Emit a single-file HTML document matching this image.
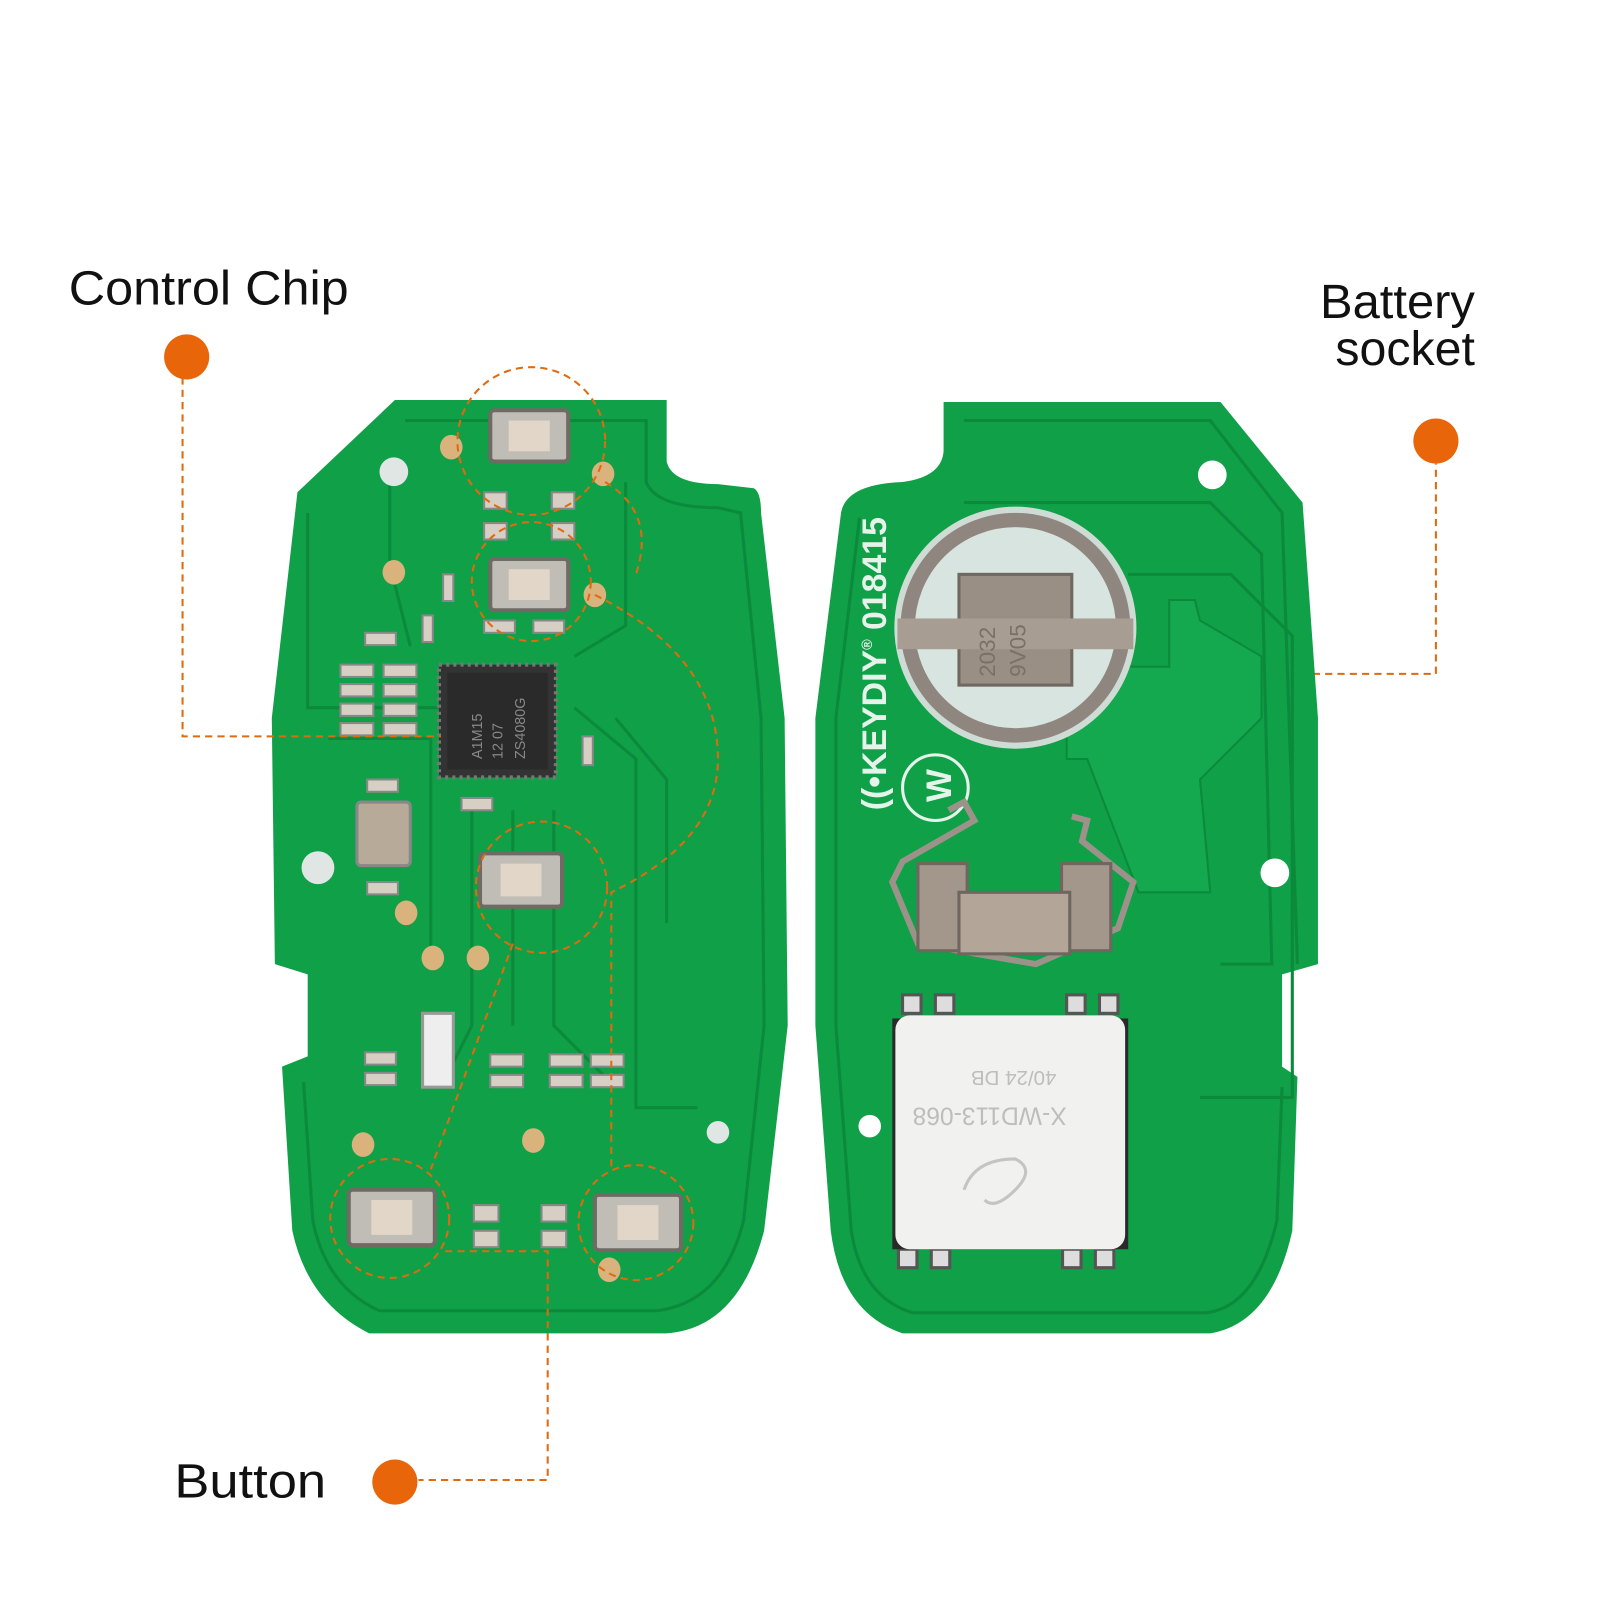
<!DOCTYPE html>
<html><head><style>html,body{margin:0;padding:0;background:#fff}svg{display:block}</style></head><body>
<svg width="1600" height="1600" viewBox="0 0 1560 1560" xmlns="http://www.w3.org/2000/svg" font-family="Liberation Sans, sans-serif">
<rect width="1560" height="1560" fill="#fff"/>
<path d="M385 390 L650 390 L650 450 Q655 472 700 472 L735 476 Q742 480 742 500 L765 700 L768 1000 L745 1200 Q720 1295 650 1300 L360 1300 Q300 1270 285 1200 L275 1040 L300 1030 L300 950 L268 940 L265 700 L290 480 Z" fill="#0fa048"/>
<path d="M395 410 L630 410 L630 470 Q640 495 700 495 L722 500 L742 700 L745 1000 L725 1190 Q705 1270 640 1278 L370 1278 Q318 1255 305 1190 L296 1055" fill="none" stroke="#0c8a3c" stroke-width="3"/>
<path d="M300 500 L300 690 L430 690 M320 720 L420 720 L420 930 M600 700 L650 760 L650 900 M560 690 L620 740 L620 1080 L680 1080 M540 790 L540 1000 L600 1060 M500 790 L500 1000 M460 790 L460 1000 L440 1040 M380 470 L380 550 L400 630 M610 470 L610 610 L560 640" fill="none" stroke="#0c8a3c" stroke-width="3"/>
<rect x="428" y="648" width="114" height="110" fill="#333" stroke="#777" stroke-width="4" stroke-dasharray="3 4"/>
<rect x="436" y="656" width="98" height="94" fill="#2a2a2a"/>
<text transform="translate(470,740) rotate(-90)" font-size="14" fill="#888">A1M15</text>
<text transform="translate(490,740) rotate(-90)" font-size="14" fill="#888">12 07</text>
<text transform="translate(512,740) rotate(-90)" font-size="14" fill="#888">ZS4080G</text>
<g fill="#d8cfc4" stroke="#888" stroke-width="2">
<rect x="332" y="648" width="32" height="12"/><rect x="374" y="648" width="32" height="12"/>
<rect x="332" y="667" width="32" height="12"/><rect x="374" y="667" width="32" height="12"/>
<rect x="332" y="686" width="32" height="12"/><rect x="374" y="686" width="32" height="12"/>
<rect x="332" y="705" width="32" height="12"/><rect x="374" y="705" width="32" height="12"/>
<rect x="356" y="617" width="30" height="12"/><rect x="432" y="560" width="10" height="26"/><rect x="412" y="600" width="10" height="26"/>
<rect x="568" y="718" width="10" height="28"/><rect x="450" y="778" width="30" height="12"/>
<rect x="358" y="760" width="30" height="12"/><rect x="358" y="860" width="30" height="12"/>
<rect x="472" y="480" width="22" height="16"/><rect x="538" y="480" width="22" height="16"/>
<rect x="472" y="510" width="22" height="16"/><rect x="538" y="510" width="22" height="16"/>
<rect x="472" y="605" width="30" height="12"/><rect x="520" y="605" width="30" height="12"/>
<rect x="356" y="1026" width="30" height="12"/><rect x="356" y="1046" width="30" height="12"/>
<rect x="478" y="1028" width="32" height="12"/><rect x="478" y="1048" width="32" height="12"/>
<rect x="536" y="1028" width="32" height="12"/><rect x="536" y="1048" width="32" height="12"/>
<rect x="576" y="1028" width="32" height="12"/><rect x="576" y="1048" width="32" height="12"/>
<rect x="462" y="1175" width="24" height="16"/><rect x="528" y="1175" width="24" height="16"/>
<rect x="462" y="1200" width="24" height="16"/><rect x="528" y="1200" width="24" height="16"/>
</g>
<rect x="412" y="988" width="30" height="72" fill="#eee" stroke="#999" stroke-width="3"/>
<rect x="348" y="782" width="52" height="62" rx="4" fill="#b8aa98" stroke="#888" stroke-width="3"/>
<g fill="#c0bcb6" stroke="#6f6a64" stroke-width="4">
<rect x="478" y="400" width="76" height="50" rx="4"/>
<rect x="478" y="545" width="76" height="50" rx="4"/>
<rect x="468" y="832" width="80" height="52" rx="4"/>
<rect x="340" y="1160" width="84" height="54" rx="4"/>
<rect x="580" y="1165" width="84" height="54" rx="4"/>
</g>
<g fill="#e2d6c8"><rect x="496" y="410" width="40" height="30"/><rect x="496" y="555" width="40" height="30"/><rect x="488" y="842" width="40" height="32"/><rect x="362" y="1170" width="40" height="34"/><rect x="602" y="1175" width="40" height="34"/></g>
<g fill="#d9b27c"><ellipse cx="440" cy="436" rx="11" ry="12"/><ellipse cx="588" cy="462" rx="11" ry="12"/><ellipse cx="384" cy="558" rx="11" ry="12"/><ellipse cx="580" cy="580" rx="11" ry="12"/><ellipse cx="396" cy="890" rx="11" ry="12"/><ellipse cx="422" cy="934" rx="11" ry="12"/><ellipse cx="466" cy="934" rx="11" ry="12"/><ellipse cx="354" cy="1116" rx="11" ry="12"/><ellipse cx="520" cy="1112" rx="11" ry="12"/><ellipse cx="594" cy="1238" rx="11" ry="12"/></g>
<g fill="#dfe6e3"><circle cx="384" cy="460" r="14"/><circle cx="310" cy="846" r="16"/><circle cx="700" cy="1104" r="11"/></g>
<g fill="none" stroke="#e06a10" stroke-width="2" stroke-dasharray="7 5">
<circle cx="518" cy="430" r="72"/><circle cx="518" cy="567" r="58"/><circle cx="528" cy="865" r="64"/><circle cx="380" cy="1188" r="58"/><circle cx="620" cy="1192" r="56"/>
<path d="M590 470 Q640 500 620 560"/>
<path d="M580 580 Q700 640 700 740 Q700 820 596 870 L596 1140"/>
<path d="M500 920 L420 1140"/>
<path d="M434 1220 L534 1220 L534 1443 L408 1443"/>
<path d="M178 368 L178 718 L430 718"/>
<path d="M1100 657 L1400 657 L1400 452"/>
</g>
<path d="M920 392 L1190 392 L1270 490 L1285 700 L1285 940 L1250 950 L1250 1040 L1265 1050 L1260 1200 Q1240 1290 1180 1300 L880 1300 Q820 1280 810 1200 L795 1000 L795 700 L820 500 Q825 472 880 470 Q918 465 920 440 Z" fill="#0fa048"/>
<path d="M940 410 L1180 410 L1250 500 L1265 940 M1250 1060 L1245 1190 Q1225 1275 1175 1280 L890 1280 Q840 1265 830 1200 L815 1000 L815 700 L838 505" fill="none" stroke="#0c8a3c" stroke-width="3"/>
<path d="M1140 585 L1165 585 L1170 605 L1230 640 L1230 700 L1170 760 L1180 870 L1110 870 L1060 740 L1040 740 L1040 650 L1140 650 Z" fill="#14a84f" stroke="#0c8a3c" stroke-width="2"/>
<path d="M940 490 L1180 490 L1230 540 L1240 940 L1190 940 M1100 560 L1200 560 L1260 620 L1260 1070 L1170 1070" fill="none" stroke="#0c8a3c" stroke-width="3"/>
<circle cx="1182" cy="463" r="14" fill="#fff"/><circle cx="1243" cy="851" r="14" fill="#fff"/><circle cx="848" cy="1098" r="11" fill="#fff"/>
<circle cx="990" cy="612" r="118" fill="#cfdcd6"/>
<circle cx="990" cy="612" r="105" fill="#d8e4e0" stroke="#8f8680" stroke-width="14"/>
<rect x="935" y="560" width="110" height="108" fill="#9a8f84" stroke="#6f6860" stroke-width="3"/>
<rect x="875" y="603" width="230" height="30" fill="#a89d92"/>
<text transform="translate(970,660) rotate(-90)" font-size="22" fill="#7a7068">2032</text>
<text transform="translate(1000,660) rotate(-90)" font-size="22" fill="#7a7068">9V05</text>
<text transform="translate(864,790) rotate(-90)" font-size="33" font-weight="bold" fill="#e6f3ea">((•KEYDIY<tspan font-size="14" dy="-14">®</tspan><tspan dy="14"> 018415</tspan></text>
<circle cx="912" cy="768" r="32" fill="none" stroke="#e6f3ea" stroke-width="3"/>
<text transform="translate(927,782) rotate(-90)" font-size="34" font-weight="bold" fill="#e6f3ea">W</text>
<path d="M925 790 L940 782 L950 800 L880 840 L870 860 L895 920 L1010 940 L1090 905 L1105 860 L1055 820 L1060 800 L1045 796" fill="none" stroke="#9c928a" stroke-width="6"/>
<rect x="895" y="842" width="48" height="85" fill="#a3968a" stroke="#6e665f" stroke-width="3"/>
<rect x="1035" y="842" width="48" height="85" fill="#a3968a" stroke="#6e665f" stroke-width="3"/>
<rect x="935" y="870" width="108" height="60" fill="#b3a597" stroke="#6e665f" stroke-width="3"/>
<g fill="#ddd" stroke="#555" stroke-width="3"><rect x="880" y="970" width="18" height="18"/><rect x="912" y="970" width="18" height="18"/><rect x="1040" y="970" width="18" height="18"/><rect x="1072" y="970" width="18" height="18"/><rect x="876" y="1218" width="18" height="18"/><rect x="908" y="1218" width="18" height="18"/><rect x="1036" y="1218" width="18" height="18"/><rect x="1068" y="1218" width="18" height="18"/></g>
<rect x="870" y="993" width="230" height="225" fill="#2a2a2a"/>
<rect x="873" y="990" width="224" height="228" rx="14" fill="#f1f1ef"/>
<text transform="translate(1040,1080) rotate(180)" font-size="24" fill="#bdbdbd">X-WD113-068</text>
<text transform="translate(1030,1044) rotate(180)" font-size="20" fill="#bdbdbd">40/24 DB</text>
<path d="M940 1160 Q950 1130 990 1130 Q1010 1140 990 1160 Q970 1180 960 1170" fill="none" stroke="#c4c4c4" stroke-width="3"/>
<g fill="#e8650a"><circle cx="182" cy="348" r="22"/><circle cx="1400" cy="430" r="22"/><circle cx="385" cy="1445" r="22"/></g>
<text x="67" y="297" font-size="47" fill="#111" textLength="273" lengthAdjust="spacingAndGlyphs">Control Chip</text>
<text x="1287" y="310" font-size="47" fill="#111" textLength="151" lengthAdjust="spacingAndGlyphs">Battery</text>
<text x="1302" y="356" font-size="47" fill="#111" textLength="136" lengthAdjust="spacingAndGlyphs">socket</text>
<text x="170" y="1460" font-size="47" fill="#111" textLength="148" lengthAdjust="spacingAndGlyphs">Button</text>
</svg>
</body></html>
